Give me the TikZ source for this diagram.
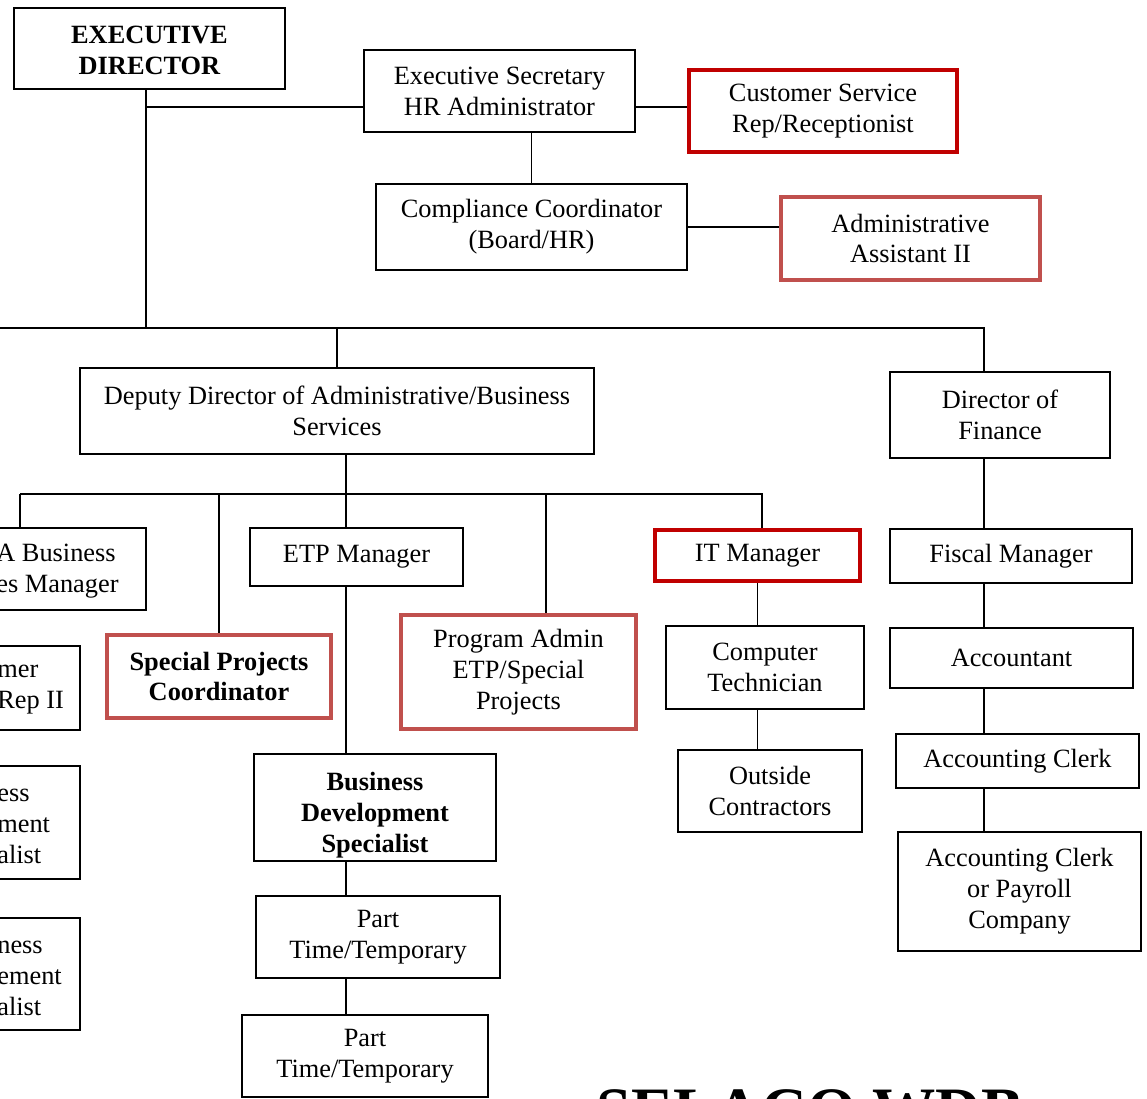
\documentclass[tikz,border=0pt]{standalone}
\usepackage{fontspec}
\setmainfont{Liberation Serif}
\definecolor{brightred}{RGB}{192,0,0}
\definecolor{dullred}{RGB}{192,80,77}
\usepackage{tikz}
\usetikzlibrary{positioning,calc}

\begin{document}
\begin{tikzpicture}[
      x=0.02cm,y=-0.02cm,
      box/.style={draw,line width=1.1pt,align=center,inner sep=0pt,font=\fontsize{15}{17.6}\selectfont},
      redbox/.style={box,draw=brightred,line width=2.5pt},
      paleredbox/.style={box,draw=dullred,line width=2.5pt},
      cuttext/.style={anchor=west,align=left,inner sep=0pt,font=\fontsize{15}{17.6}\selectfont},
      link/.style={line width=1.1pt}
    ]
      \clip (0,0) rectangle (1147,1099);
      % Top level
      \node[box,font=\fontsize{15}{17.6}\selectfont\bfseries,minimum width=5.42cm,minimum height=1.62cm] (ed) at (149.5,48.5) {\rule{0pt}{0.44cm}EXECUTIVE\\DIRECTOR};
      \node[box,minimum width=5.42cm,minimum height=1.64cm] (execsec) at (499.5,91) {Executive Secretary\\HR Administrator};
      \node[redbox,minimum width=5.36cm,minimum height=1.64cm] (custserv) at (823,111) {Customer Service\\Rep/Receptionist};
      \node[box,minimum width=6.22cm,minimum height=1.72cm] (compliance) at (531.5,227) {Compliance Coordinator\\(Board/HR)};
      \node[paleredbox,minimum width=5.18cm,minimum height=1.66cm] (adminasst) at (910.5,238.5) {Administrative\\Assistant II};
      % Second level
      \node[box,minimum width=10.28cm,minimum height=1.72cm] (deputy) at (337,411) {Deputy Director of Administrative/Business\\Services};
      \node[box,minimum width=4.40cm,minimum height=1.72cm] (finance) at (1000,415) {Director of\\Finance};
      % Under the deputy director
      \node[box,minimum width=4.12cm,minimum height=1.64cm] (bizmgr) at (43,569) {};
      \node[cuttext] (bizmgrtext) at (-4,571) {A Business\\es Manager};
      \node[box,minimum width=4.26cm,minimum height=1.16cm] (etp) at (356.5,557) {ETP Manager};
      \node[redbox,minimum width=4.10cm,minimum height=1.02cm] (itmgr) at (757.5,555.5) {IT Manager};
      \node[box,minimum width=2.80cm,minimum height=1.68cm] (custrep) at (10,688) {};
      \node[cuttext] (custreptext) at (-3,690) {mer\\Rep II};
      \node[paleredbox,font=\fontsize{15}{17.6}\selectfont\bfseries,minimum width=4.48cm,minimum height=1.66cm] (specproj) at (219,676.5) {Special Projects\\Coordinator};
      \node[paleredbox,minimum width=4.70cm,minimum height=2.28cm] (progadmin) at (518.5,672) {Program Admin\\ETP/Special\\Projects};
      \node[box,line width=1.4pt,minimum width=3.96cm,minimum height=1.66cm] (comptech) at (765,667.5) {Computer\\Technician};
      \node[box,minimum width=3.68cm,minimum height=1.64cm] (outside) at (770,791) {Outside\\Contractors};
      \node[box,minimum width=2.80cm,minimum height=2.26cm] (engage1) at (10,822.5) {};
      \node[cuttext] (engage1text) at (-3,826) {ess\\ment\\alist};
      \node[box,minimum width=2.80cm,minimum height=2.24cm] (engage2) at (10,974) {};
      \node[cuttext] (engage2text) at (-3,978) {ness\\ement\\alist};
      \node[box,font=\fontsize{15}{17.6}\selectfont\bfseries,minimum width=4.84cm,minimum height=2.14cm] (bizdev) at (375,807.5) {\rule{0pt}{0.66cm}Business\\Development\\Specialist};
      \node[box,minimum width=4.88cm,minimum height=1.64cm] (parttime1) at (378,937) {Part\\Time/Temporary};
      \node[box,minimum width=4.92cm,minimum height=1.64cm] (parttime2) at (365,1056) {Part\\Time/Temporary};
      % Finance column
      \node[box,minimum width=4.84cm,minimum height=1.08cm] (fiscal) at (1011,556) {Fiscal Manager};
      \node[box,minimum width=4.86cm,minimum height=1.20cm] (accountant) at (1011.5,658) {Accountant};
      \node[box,minimum width=4.86cm,minimum height=1.08cm] (acctclerk) at (1017.5,761) {Accounting Clerk};
      \node[box,minimum width=4.86cm,minimum height=2.38cm] (payroll) at (1019.5,891.5) {Accounting Clerk\\or Payroll\\Company};
      % Title (cut off at the bottom)
      \node[anchor=base west,inner sep=0pt,font=\fontsize{36}{40}\selectfont\bfseries] (title) at (596,1131) {SELACO WDB};
      % Junction points
      \coordinate (edsec) at (146,107);
      \coordinate (busl) at (0,328);
      \coordinate (busr) at (984,328);
      \coordinate (depl) at (20,494);
      \coordinate (depr) at (762,494);
      \coordinate (dbus) at (346,494);
      \coordinate (pabr) at (546,494);
      % Connectors
      \draw[link] (ed.south -| edsec) -- (edsec |- busl);
      \draw[link] (edsec) -- (edsec -| execsec.west);
      \draw[link] (edsec -| execsec.east) -- (edsec -| custserv.west);
      \draw[link] (compliance.north) -- (compliance.north |- execsec.south);
      \draw[link] (compliance.east) -- (compliance.east -| adminasst.west);
      \draw[link] (busl) -- (busr) -- (busr |- finance.north);
      \draw[link] (deputy.north) -- (deputy.north |- busl);
      \draw[link] (dbus |- deputy.south) -- (dbus) -- (dbus |- etp.north);
      \draw[link] (depl) -- (depr) -- (depr |- itmgr.north);
      \draw[link] (depl) -- (depl |- bizmgr.north);
      \draw[link] (specproj.north |- depl) -- (specproj.north);
      \draw[link] (pabr) -- (pabr |- progadmin.north);
      \draw[link] (dbus |- etp.south) -- (dbus |- bizdev.north);
      \draw[link] (dbus |- bizdev.south) -- (dbus |- parttime1.north);
      \draw[link] (dbus |- parttime1.south) -- (dbus |- parttime2.north);
      \draw[link] (itmgr.south) -- (itmgr.south |- comptech.north);
      \draw[link] (itmgr.south |- comptech.south) -- (itmgr.south |- outside.north);
      \draw[link] (busr |- finance.south) -- (busr |- fiscal.north);
      \draw[link] (busr |- fiscal.south) -- (busr |- accountant.north);
      \draw[link] (busr |- accountant.south) -- (busr |- acctclerk.north);
      \draw[link] (busr |- acctclerk.south) -- (busr |- payroll.north);
    \end{tikzpicture}
\end{document}
